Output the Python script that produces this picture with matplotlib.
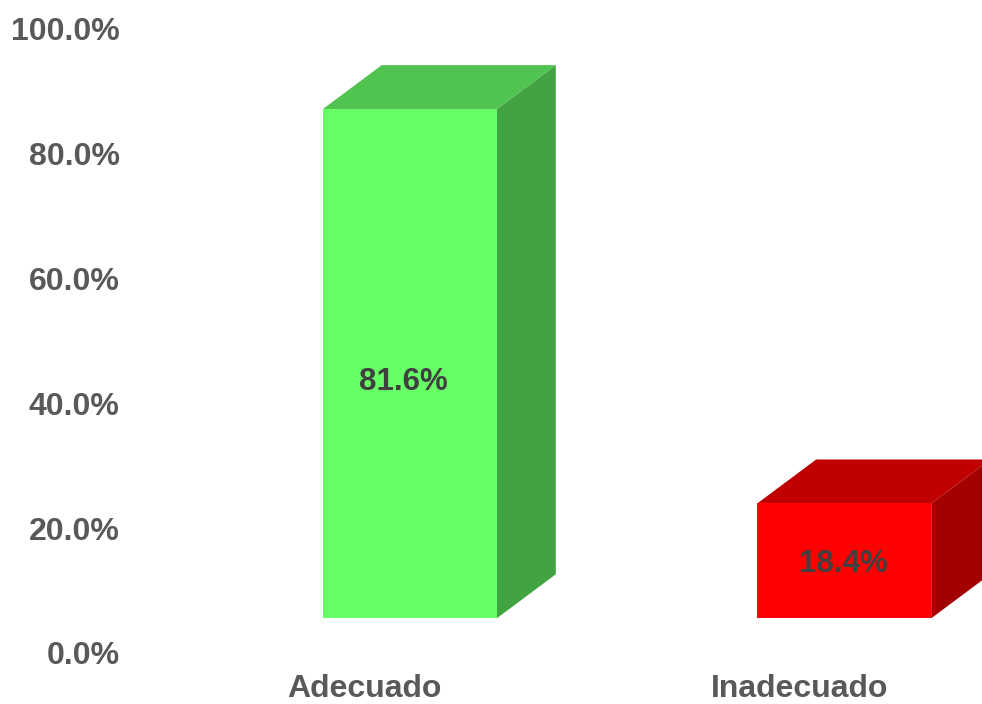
import matplotlib
matplotlib.use("Agg")
import matplotlib.pyplot as plt
from matplotlib.patches import Polygon

categories = ["Adecuado", "Inadecuado"]
values = [81.6, 18.4]
value_labels = ["81.6%", "18.4%"]
tick_values = [0, 20, 40, 60, 80, 100]
tick_labels = ["0.0%", "20.0%", "40.0%", "60.0%", "80.0%", "100.0%"]

front_colors = ["#66FF66", "#FF0000"]
top_colors = ["#50C350", "#C00000"]
side_colors = ["#42A342", "#A30000"]

plt.rcParams['font.family'] = ['Liberation Sans', 'DejaVu Sans']

W, H = 982, 704
fig = plt.figure(figsize=(W / 100, H / 100), dpi=100)

left_px, right_px = 130, 982
top_px, bot_px = 29, 653
pos = [left_px / W, 1 - bot_px / H, (right_px - left_px) / W, (bot_px - top_px) / H]

spacing = 434.4
c0 = 409.8
xlim = ((left_px - c0) / spacing, (right_px - c0) / spacing)

# axis for tick labels
ax_t = fig.add_axes(pos)
ax_t.set_ylim(0, 100)
ax_t.set_xlim(*xlim)
ax_t.set_yticks(tick_values)
ax_t.set_yticklabels(tick_labels, fontsize=23, fontweight='bold', color='#595959')
ax_t.tick_params(axis='y', length=0, pad=7.5)
ax_t.set_xticks([i - 45 / spacing for i in range(len(categories))])
ax_t.set_xticklabels(categories, fontsize=23, fontweight='bold', color='#595959')
ax_t.tick_params(axis='x', length=0, pad=15)
for s in ax_t.spines.values():
    s.set_visible(False)

# axis for the 3D bars (floor offset as in the reference projection)
scale = 6.24
front_floor = 618.3
ax_b = fig.add_axes(pos, sharex=ax_t)
ax_b.set_ylim((front_floor - bot_px) / scale, (front_floor - top_px) / scale)
ax_b.patch.set_alpha(0)
ax_b.axis('off')

width = 174 / spacing
dx = 59 / spacing
dy = 44 / scale

for i, v in enumerate(values):
    x0 = i - width / 2
    x1 = i + width / 2
    # side face
    ax_b.add_patch(Polygon([(x1, 0), (x1 + dx, dy), (x1 + dx, v + dy), (x1, v)],
                           closed=True, facecolor=side_colors[i], edgecolor='none', clip_on=True))
    # top face
    ax_b.add_patch(Polygon([(x0, v), (x0 + dx, v + dy), (x1 + dx, v + dy), (x1, v)],
                           closed=True, facecolor=top_colors[i], edgecolor='none', clip_on=True))
    # front face
    ax_b.bar(i, v, width=width, bottom=0, color=front_colors[i], edgecolor='none')
    ax_b.text(i - (6 if i == 0 else 1) / spacing, 0.46 * v + 0.3, value_labels[i],
              ha='center', va='center', fontsize=22.5, fontweight='bold', color='#404040')

fig.savefig("out.png", dpi=100)
